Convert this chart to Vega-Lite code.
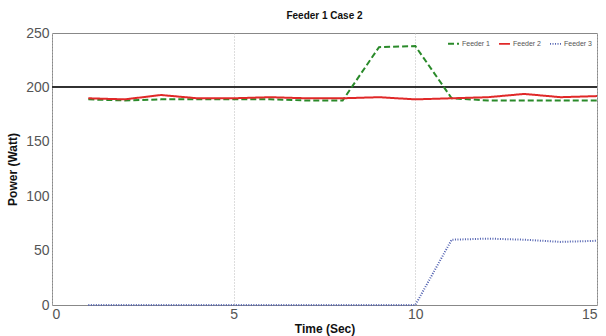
{
  "$schema": "https://vega.github.io/schema/vega-lite/v6.json",
  "width": 545,
  "height": 272,
  "autosize": "none",
  "padding": {"left": 52, "top": 33, "right": 9, "bottom": 31},
  "background": "white",
  "config": {
    "font": "Liberation Sans",
    "view": {"stroke": "#888", "strokeWidth": 1},
    "axis": {
      "gridColor": "#bbb",
      "gridDash": [1, 2],
      "gridWidth": 1,
      "domain": false,
      "ticks": false,
      "labelFont": "Liberation Sans",
      "labelFontSize": 14,
      "labelColor": "#555",
      "titleFont": "Liberation Sans",
      "titleFontSize": 12,
      "titleFontWeight": "bold",
      "titleColor": "#111"
    }
  },
  "title": {"text": "Feeder 1 Case 2", "fontSize": 10, "fontWeight": "bold", "font": "Liberation Sans", "color": "#111", "offset": 5},
  "data": {
    "values": [
      {"t": 1, "s": "Feeder 1", "p": 189}, {"t": 2, "s": "Feeder 1", "p": 188}, {"t": 3, "s": "Feeder 1", "p": 189},
      {"t": 4, "s": "Feeder 1", "p": 189}, {"t": 5, "s": "Feeder 1", "p": 189}, {"t": 6, "s": "Feeder 1", "p": 189},
      {"t": 7, "s": "Feeder 1", "p": 188}, {"t": 8, "s": "Feeder 1", "p": 188}, {"t": 9, "s": "Feeder 1", "p": 237},
      {"t": 10, "s": "Feeder 1", "p": 238}, {"t": 11, "s": "Feeder 1", "p": 190}, {"t": 12, "s": "Feeder 1", "p": 188},
      {"t": 13, "s": "Feeder 1", "p": 188}, {"t": 14, "s": "Feeder 1", "p": 188}, {"t": 15, "s": "Feeder 1", "p": 188},
      {"t": 1, "s": "Feeder 2", "p": 190}, {"t": 2, "s": "Feeder 2", "p": 189}, {"t": 3, "s": "Feeder 2", "p": 193},
      {"t": 4, "s": "Feeder 2", "p": 190}, {"t": 5, "s": "Feeder 2", "p": 190}, {"t": 6, "s": "Feeder 2", "p": 191},
      {"t": 7, "s": "Feeder 2", "p": 190}, {"t": 8, "s": "Feeder 2", "p": 190}, {"t": 9, "s": "Feeder 2", "p": 191},
      {"t": 10, "s": "Feeder 2", "p": 189}, {"t": 11, "s": "Feeder 2", "p": 190}, {"t": 12, "s": "Feeder 2", "p": 191},
      {"t": 13, "s": "Feeder 2", "p": 194}, {"t": 14, "s": "Feeder 2", "p": 191}, {"t": 15, "s": "Feeder 2", "p": 192},
      {"t": 1, "s": "Feeder 3", "p": 0}, {"t": 2, "s": "Feeder 3", "p": 0}, {"t": 3, "s": "Feeder 3", "p": 0},
      {"t": 4, "s": "Feeder 3", "p": 0}, {"t": 5, "s": "Feeder 3", "p": 0}, {"t": 6, "s": "Feeder 3", "p": 0},
      {"t": 7, "s": "Feeder 3", "p": 0}, {"t": 8, "s": "Feeder 3", "p": 0}, {"t": 9, "s": "Feeder 3", "p": 0},
      {"t": 10, "s": "Feeder 3", "p": 0}, {"t": 11, "s": "Feeder 3", "p": 60}, {"t": 12, "s": "Feeder 3", "p": 61},
      {"t": 13, "s": "Feeder 3", "p": 60}, {"t": 14, "s": "Feeder 3", "p": 58}, {"t": 15, "s": "Feeder 3", "p": 59}
    ]
  },
  "layer": [
    {
      "mark": {"type": "rule", "color": "#333", "strokeWidth": 1.2},
      "encoding": {"y": {"datum": 200}}
    },
    {
      "mark": {"type": "line", "strokeWidth": 2},
      "encoding": {
        "x": {"field": "t", "type": "quantitative", "title": "Time (Sec)",
              "scale": {"domain": [0, 15], "nice": false},
              "axis": {"values": [0, 5, 10, 15], "labelPadding": 2, "titlePadding": 2}},
        "y": {"field": "p", "type": "quantitative", "title": "Power (Watt)",
              "scale": {"domain": [0, 250], "nice": false},
              "axis": {"values": [0, 50, 100, 150, 200, 250], "labelPadding": 3, "titlePadding": 6}},
        "color": {"field": "s", "type": "nominal",
                  "scale": {"domain": ["Feeder 1", "Feeder 2", "Feeder 3"], "range": ["#2a8a2a", "#e02828", "#5060b0"]},
                  "legend": {"orient": "top-right", "direction": "horizontal", "title": null,
                             "labelFontSize": 7, "labelColor": "#555", "symbolType": "stroke",
                             "symbolSize": 120, "symbolStrokeWidth": 2, "columnPadding": 4, "offset": 4, "labelOffset": 2}},
        "strokeDash": {"field": "s", "type": "nominal",
                       "scale": {"domain": ["Feeder 1", "Feeder 2", "Feeder 3"], "range": [[6, 3], [1, 0], [1, 1.5]]},
                       "legend": null},
        "strokeWidth": {"field": "s", "type": "nominal",
                        "scale": {"domain": ["Feeder 1", "Feeder 2", "Feeder 3"], "range": [2, 1.8, 1.2]},
                        "legend": null}
      }
    }
  ]
}
